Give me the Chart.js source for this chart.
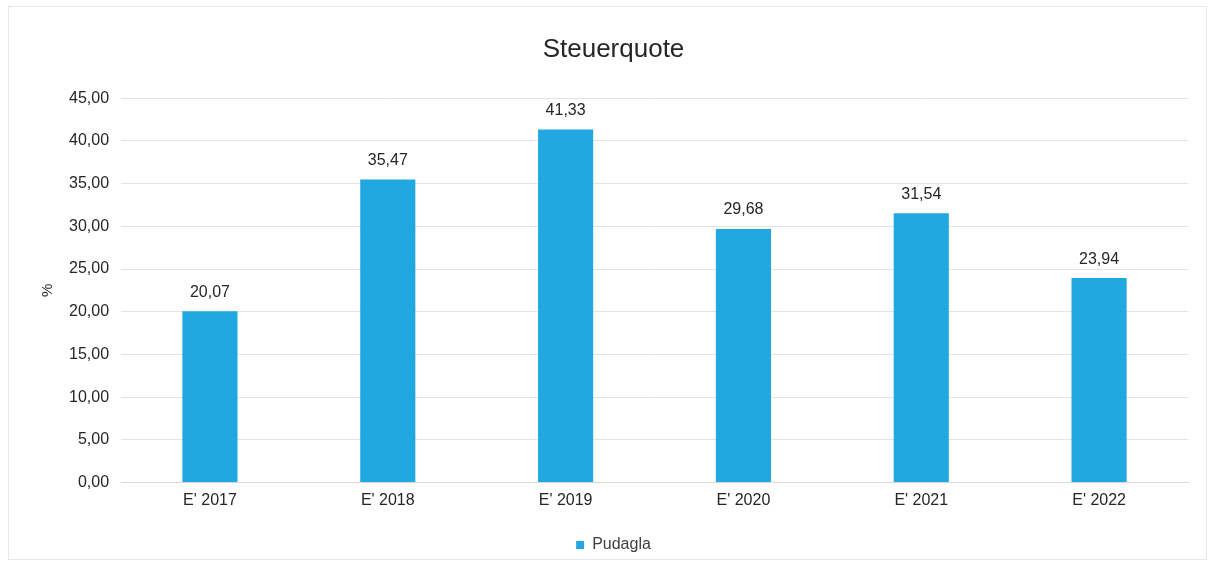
<!DOCTYPE html>
<html>
<head>
<meta charset="utf-8">
<script src="https://cdn.jsdelivr.net/npm/chart.js@4.4.1/dist/chart.umd.min.js"></script>
<style>
  html, body { margin: 0; padding: 0; background: #fff; }
  #frame { position: absolute; left: 8px; top: 6px; width: 1199px; height: 554px; border: 1px solid #e6e6e6; box-sizing: border-box; pointer-events: none; }
  #wrap { position: absolute; left: 0; top: 0; width: 1215px; height: 566px; }
  canvas { display: block; }
</style>
</head>
<body>
<div id="frame"></div>
<div id="wrap"><canvas id="c"></canvas></div>
<script>
const categories = ["E' 2017", "E' 2018", "E' 2019", "E' 2020", "E' 2021", "E' 2022"];
const seriesName = "Pudagla";
const values = [20.07, 35.47, 41.33, 29.68, 31.54, 23.94];
const chartTitle = "Steuerquote";
const yAxisTitle = "%";

const fmt = v => v.toFixed(2).replace('.', ',');
const FONT = "'Liberation Sans', Arial, sans-serif";

const valueLabels = {
  id: 'valueLabels',
  afterDatasetsDraw(chart) {
    const ctx = chart.ctx;
    const meta = chart.getDatasetMeta(0);
    ctx.save();
    ctx.font = "16px " + FONT;
    ctx.fillStyle = '#262626';
    ctx.textAlign = 'center';
    ctx.textBaseline = 'middle';
    meta.data.forEach((bar, i) => {
      ctx.fillText(fmt(chart.data.datasets[0].data[i]), bar.x, bar.y - 19);
    });
    ctx.restore();
  }
};

new Chart(document.getElementById('c'), {
  type: 'bar',
  data: {
    labels: categories,
    datasets: [{
      label: seriesName,
      data: values,
      backgroundColor: '#22A8E0',
      borderWidth: 0,
      barPercentage: 0.62,
      categoryPercentage: 0.5
    }]
  },
  options: {
    responsive: true,
    maintainAspectRatio: false,
    animation: false,
    layout: { padding: { left: 39, right: 27, top: 14, bottom: 3 } },
    plugins: {
      title: {
        display: true,
        text: chartTitle,
        color: '#262626',
        font: { family: FONT, size: 26, weight: 'normal' },
        padding: { top: 20, bottom: 33 }
      },
      legend: {
        display: true,
        position: 'bottom',
        labels: {
          color: '#404040',
          font: { family: FONT, size: 16 },
          boxWidth: 8,
          boxHeight: 8,
          padding: 14
        }
      },
      tooltip: { enabled: false }
    },
    scales: {
      x: {
        grid: { display: false, drawTicks: false },
        border: { display: true, color: '#d9d9d9' },
        ticks: { color: '#262626', font: { family: FONT, size: 16 }, padding: 8 },
        title: { display: true, text: '', font: { size: 1 }, padding: { top: 4, bottom: 0 } }
      },
      y: {
        min: 0,
        max: 45,
        ticks: {
          stepSize: 5,
          color: '#262626',
          font: { family: FONT, size: 16 },
          padding: 12,
          callback: v => fmt(v)
        },
        grid: { color: '#e3e3e3', drawTicks: false },
        border: { display: false },
        title: {
          display: true,
          text: yAxisTitle,
          color: '#262626',
          font: { family: FONT, size: 15 },
          padding: { top: 0, bottom: 0 }
        }
      }
    }
  },
  plugins: [valueLabels]
});
</script>
</body>
</html>
